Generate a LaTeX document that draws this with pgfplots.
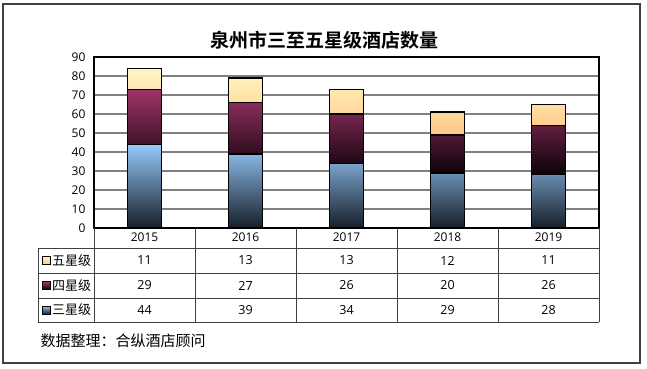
\documentclass[border=0pt]{standalone}
\usepackage{fontspec}
\setmainfont{Open Sans}
\newfontfamily\cjk{Noto Sans CJK SC}[BoldFont={Noto Sans CJK SC Bold}]
\usepackage{pgfplots}
\pgfplotsset{compat=1.18}
\usepackage{pgfplotstable}

\pgfplotstableread{
x three four five
0 44 29 11
1 39 27 13
2 34 26 13
3 29 20 12
4 28 26 11
}\datatable

\definecolor{bluetop}{RGB}{150,201,250}
\definecolor{bluebot}{RGB}{22,30,40}
\definecolor{redtop}{RGB}{160,52,105}
\definecolor{redbot}{RGB}{12,2,8}
\definecolor{yeltop}{RGB}{255,246,195}
\definecolor{yelbot}{RGB}{255,200,135}
\definecolor{gridgray}{RGB}{128,128,128}
\definecolor{framegray}{RGB}{64,64,64}

\begin{document}
\begin{tikzpicture}[x=1pt,y=1pt]
\path[use as bounding box] (0,0) rectangle (647,368);
\fill[white] (0,0) rectangle (647,368);
\draw[framegray, line width=1.2pt] (3,5) rectangle (640,364);
\node[font=\cjk\bfseries\fontsize{19}{20}\selectfont] at (324,328) {泉州市三至五星级酒店数量};
\begin{axis}[
  at={(94pt,140pt)}, anchor=south west, scale only axis,
  width=505pt, height=171pt,
  xmin=-0.5, xmax=4.5, ymin=0, ymax=90,
  ytick={0,10,...,90},
  xtick={0,1,2,3,4},
  xticklabel={\pgfmathparse{int(\tick+2015)}\mbox{\pgfmathresult}},
  yticklabel={\pgfmathparse{int(\tick)}\mbox{\pgfmathresult}},
  major tick length=0pt,
  ymajorgrids, grid style={gridgray, line width=1.3pt},
  axis line style={black, line width=1.4pt},
  ybar stacked, bar width=34pt,
  tick label style={font=\fontsize{12}{14}\selectfont},
  yticklabel style={xshift=-5pt},
  xticklabel style={yshift=-1pt},
]
\addplot[draw=black, line width=1.3pt, top color=bluetop, bottom color=bluebot] table[x=x,y=three]{\datatable};
\addplot[draw=black, line width=1.3pt, top color=redtop, bottom color=redbot] table[x=x,y=four]{\datatable};
\addplot[draw=black, line width=1.3pt, top color=yeltop, bottom color=yelbot] table[x=x,y=five]{\datatable};
\end{axis}
% data table
\foreach \xx in {94,195,296,397,498,599} \draw[framegray, line width=1pt] (\xx,140) -- (\xx,46);
\foreach \yy in {120,95,70,46} \draw[framegray, line width=1pt] (38,\yy) -- (599,\yy);
\draw[framegray, line width=1pt] (38,120) -- (38,46);
\draw[black, line width=0.6pt, top color=yeltop, bottom color=yelbot] (42.5,103.5) rectangle (50.5,111.5);
\draw[black, line width=0.6pt, top color=redtop, bottom color=redbot] (42.5,78.5) rectangle (50.5,86.5);
\draw[black, line width=0.6pt, top color=bluetop, bottom color=bluebot] (42.5,54) rectangle (50.5,62);
\begin{scope}[every node/.style={font=\fontsize{12.5}{15}\selectfont}]
\node[anchor=west, inner sep=1pt, font=\cjk\fontsize{13}{15}\selectfont] at (51,107.5) {五星级};
\node[anchor=west, inner sep=1pt, font=\cjk\fontsize{13}{15}\selectfont] at (51,82.5) {四星级};
\node[anchor=west, inner sep=1pt, font=\cjk\fontsize{13}{15}\selectfont] at (51,58) {三星级};
\foreach \v [count=\i from 0] in {11,13,13,12,11} \node at (144.5+101*\i,107.5) {\v};
\foreach \v [count=\i from 0] in {29,27,26,20,26} \node at (144.5+101*\i,82.5) {\v};
\foreach \v [count=\i from 0] in {44,39,34,29,28} \node at (144.5+101*\i,58) {\v};
\end{scope}
\node[anchor=west, font=\cjk\fontsize{15}{17}\selectfont] at (37,27) {数据整理：合纵酒店顾问};
\end{tikzpicture}
\end{document}
